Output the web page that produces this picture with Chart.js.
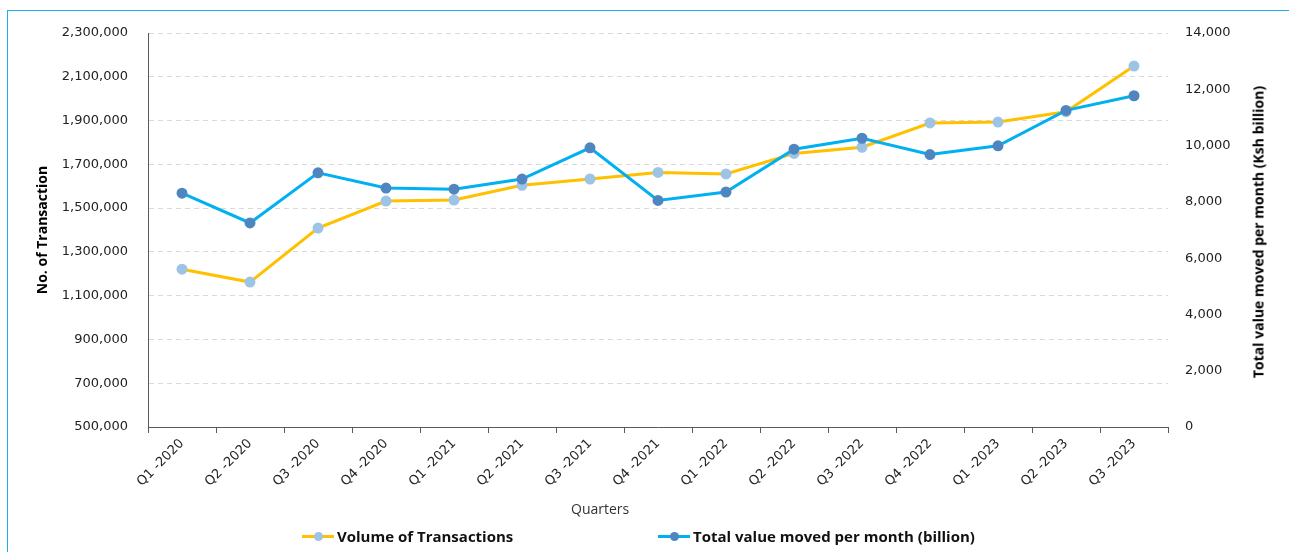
<!DOCTYPE html>
<html lang="en">
<head>
<meta charset="UTF-8">
<title>Volume and value of transactions by quarter</title>
<script src="https://cdn.jsdelivr.net/npm/chart.js"></script>
<style>
    body { margin: 0; background: #fff; }
    .wrap { position: relative; width: 1289px; height: 552px; overflow: hidden; }
    .frame { position: absolute; left: 7px; top: 10px; width: 1300px; height: 560px; border: 1px solid #1ab0ef; }
    #chart { position: absolute; left: 0; top: 0; }
    .xtitle { position: absolute; left: 571px; top: 499px; font: 14px "Open Sans"; color: #333; }
    .ytitle-right { position: absolute; left: 1258px; top: 232px; transform: translate(-50%, -50%) rotate(-90deg);
        font: bold 14px "Open Sans"; color: #000; white-space: nowrap; }
    .legend-item { position: absolute; top: 526px; font: bold 15px "Open Sans"; color: #111; white-space: nowrap; }
    .swatch { position: relative; display: inline-block; width: 32px; height: 3px; vertical-align: middle; margin-right: 3px; top: -1px; }
    .swatch i { position: absolute; left: 12px; top: -3px; width: 9px; height: 9px; border-radius: 50%; }
</style>
</head>
<body>
<div class="wrap">
    <div class="frame"></div>
    <canvas id="chart" width="1289" height="552"></canvas>
    <div class="xtitle">Quarters</div>
    <div class="ytitle-right">Total value moved per month (Ksh billion)</div>
    <div class="legend-item" style="left:302px"><span class="swatch" style="background:#ffc000"><i style="background:#9dc3e6"></i></span>Volume of Transactions</div>
    <div class="legend-item" style="left:658px"><span class="swatch" style="background:#00b0f0"><i style="background:#4f86c0"></i></span>Total value moved per month (billion)</div>
</div>

<script>
    // Quarters on the x axis
    const quarters = ['Q1 -2020', 'Q2 -2020', 'Q3 -2020', 'Q4 -2020',
        'Q1 -2021', 'Q2 -2021', 'Q3 -2021', 'Q4 -2021',
        'Q1 -2022', 'Q2 -2022', 'Q3 -2022', 'Q4 -2022',
        'Q1 -2023', 'Q2 -2023', 'Q3 -2023'];

    // No. of transactions (left axis)
    const volume = [1221000, 1162000, 1409000, 1532000, 1537000, 1604000, 1633000, 1663000,
        1656000, 1750000, 1778000, 1889000, 1893000, 1940000, 2149000];

    // Total value moved per month, Ksh billion (right axis)
    const value = [8310, 7250, 9030, 8490, 8450, 8810, 9920, 8050,
        8350, 9870, 10260, 9680, 9990, 11250, 11770];

    // axis ranges
    const leftMin = 500000, leftMax = 2300000, leftStep = 200000;
    const rightMin = 0, rightMax = 14000, rightStep = 2000;

    const tickFont = { family: 'DejaVu Sans', size: 13 };
    const titleFont = { family: 'Open Sans', size: 14, weight: 'bold' };

    new Chart(document.getElementById('chart'), {
        type: 'line',
        data: {
            labels: quarters,
            datasets: [{
                label: 'Volume of Transactions',
                data: volume,
                yAxisID: 'y',
                borderColor: '#ffc000',
                backgroundColor: '#9dc3e6',
                pointBackgroundColor: '#9dc3e6',
                pointBorderColor: '#9dc3e6',
                borderWidth: 3,
                pointRadius: 4,
                tension: 0,
                order: 1
            }, {
                label: 'Total value moved per month (billion)',
                data: value,
                yAxisID: 'y1',
                borderColor: '#00b0f0',
                backgroundColor: '#4f86c0',
                pointBackgroundColor: '#4f86c0',
                pointBorderColor: '#4f86c0',
                borderWidth: 3,
                pointRadius: 4,
                tension: 0,
                order: 0
            }]
        },
        options: {
            responsive: false,
            animation: false,
            layout: { padding: { left: 30, right: 20, top: 33, bottom: 65 } },
            plugins: {
                legend: { display: false },
                tooltip: { enabled: false }
            },
            scales: {
                x: {
                    offset: true,
                    grid: { offset: true, drawOnChartArea: false, tickLength: 6, color: '#595959' },
                    border: { color: '#595959' },
                    ticks: { font: { family: 'DejaVu Sans', size: 13 }, color: '#222', minRotation: 45, maxRotation: 45, padding: 3 },
                    afterFit: s => { s.height = 60; }
                },
                y: {
                    position: 'left',
                    min: leftMin,
                    max: leftMax,
                    grid: { color: '#d9d9d9', drawTicks: false, tickLength: 0 },
                    border: { color: '#595959', dash: [5, 4] },
                    ticks: {
                        stepSize: leftStep,
                        font: tickFont,
                        color: '#222',
                        padding: 20,
                        callback: v => v.toLocaleString('en-US')
                    },
                    title: { display: true, text: 'No. of Transaction', font: titleFont, color: '#000', padding: { top: 5, bottom: 0 } },
                    afterFit: s => { s.width = 118; }
                },
                y1: {
                    position: 'right',
                    min: rightMin,
                    max: rightMax,
                    grid: { drawOnChartArea: false, drawTicks: false, tickLength: 0 },
                    border: { display: false },
                    ticks: {
                        stepSize: rightStep,
                        font: tickFont,
                        color: '#222',
                        padding: 17,
                        callback: v => v.toLocaleString('en-US')
                    },
                    afterFit: s => { s.width = 101; }
                }
            }
        }
    });
</script>
</body>
</html>
